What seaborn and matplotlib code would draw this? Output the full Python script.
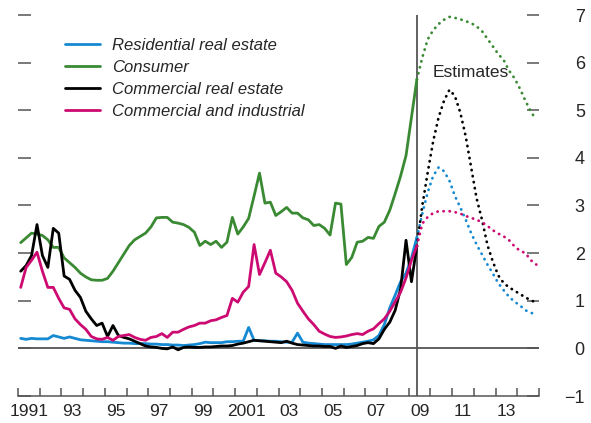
import matplotlib.pyplot as plt
import numpy as np
import pandas as pd
import seaborn as sns

# quarterly net charge-off rates, 1991Q1 - 2009Q2 (percent)
series_names = ["Residential real estate", "Consumer",
                "Commercial real estate", "Commercial and industrial"]
colors = ["#1589d2", "#3a8a33", "#000000", "#cc0a72"]

residential = [
    0.21, 0.19, 0.21, 0.20, 0.20, 0.20, 0.27, 0.24, 0.21, 0.24, 0.21, 0.18,
    0.17, 0.16, 0.15, 0.14, 0.14, 0.13, 0.12, 0.11, 0.11, 0.10, 0.10, 0.10,
    0.09, 0.09, 0.08, 0.08, 0.07, 0.07, 0.06, 0.07, 0.08, 0.10, 0.13, 0.12,
    0.12, 0.12, 0.14, 0.14, 0.15, 0.15, 0.44, 0.17, 0.16, 0.16, 0.15, 0.15,
    0.14, 0.13, 0.13, 0.32, 0.13, 0.11, 0.10, 0.09, 0.08, 0.08, 0.08, 0.08,
    0.08, 0.09, 0.11, 0.13, 0.15, 0.18, 0.27, 0.50, 0.85, 1.12, 1.40, 1.58,
    1.90, 2.33,
]
consumer = [
    2.22, 2.32, 2.42, 2.40, 2.37, 2.28, 2.12, 2.12, 1.90, 1.80, 1.70, 1.58,
    1.50, 1.44, 1.43, 1.43, 1.47, 1.62, 1.80, 1.98, 2.16, 2.28, 2.35, 2.42,
    2.55, 2.74, 2.75, 2.75, 2.65, 2.63, 2.60, 2.54, 2.44, 2.16, 2.25, 2.18,
    2.25, 2.12, 2.23, 2.75, 2.40, 2.55, 2.73, 3.20, 3.68, 3.05, 3.07, 2.79,
    2.87, 2.96, 2.84, 2.84, 2.74, 2.70, 2.58, 2.60, 2.52, 2.38, 3.05, 3.03,
    1.76, 1.91, 2.23, 2.25, 2.33, 2.31, 2.56, 2.65, 2.90, 3.25, 3.62, 4.05,
    4.85, 5.65,
]
commercial_re = [
    1.62, 1.74, 1.95, 2.60, 1.95, 1.70, 2.52, 2.42, 1.52, 1.45, 1.22, 1.07,
    0.78, 0.62, 0.48, 0.53, 0.25, 0.48, 0.27, 0.23, 0.20, 0.15, 0.10, 0.05,
    0.03, 0.02, 0.00, -0.01, 0.03, -0.03, 0.02, 0.03, 0.02, 0.02, 0.03, 0.03,
    0.04, 0.05, 0.05, 0.06, 0.09, 0.11, 0.14, 0.17, 0.16, 0.15, 0.14, 0.13,
    0.12, 0.15, 0.11, 0.08, 0.07, 0.06, 0.05, 0.05, 0.04, 0.04, 0.00, 0.05,
    0.02, 0.04, 0.06, 0.10, 0.12, 0.10, 0.20, 0.40, 0.55, 0.80, 1.25, 2.27,
    1.40, 2.15,
]
c_and_i = [
    1.28, 1.70, 1.85, 2.02, 1.62, 1.28, 1.28, 1.05, 0.85, 0.82, 0.62, 0.50,
    0.40, 0.25, 0.20, 0.19, 0.23, 0.17, 0.25, 0.27, 0.29, 0.23, 0.19, 0.17,
    0.23, 0.25, 0.31, 0.23, 0.34, 0.34, 0.40, 0.45, 0.48, 0.53, 0.53, 0.58,
    0.60, 0.65, 0.69, 1.05, 0.97, 1.18, 1.30, 2.18, 1.55, 1.80, 2.06, 1.58,
    1.50, 1.40, 1.22, 0.95, 0.78, 0.62, 0.50, 0.36, 0.30, 0.25, 0.23, 0.24,
    0.26, 0.29, 0.31, 0.29, 0.36, 0.41, 0.52, 0.62, 0.78, 0.98, 1.18, 1.48,
    1.85, 2.15,
]

# estimates, 2009Q3 - 2014Q4
residential_est = [
    2.83, 3.28, 3.62, 3.80, 3.72, 3.52, 3.20, 2.96, 2.70, 2.42, 2.18, 1.97,
    1.76, 1.57, 1.37, 1.22, 1.08, 0.98, 0.90, 0.80, 0.75, 0.70,
]
consumer_est = [
    6.11, 6.49, 6.68, 6.81, 6.90, 6.96, 6.94, 6.91, 6.87, 6.83, 6.76, 6.66,
    6.50, 6.34, 6.18, 6.05, 5.83, 5.67, 5.45, 5.20, 4.97, 4.80,
]
commercial_re_est = [
    3.00, 3.70, 4.35, 4.85, 5.20, 5.43, 5.30, 4.95, 4.45, 3.80, 3.15, 2.70,
    2.17, 1.82, 1.53, 1.37, 1.28, 1.21, 1.14, 1.07, 1.01, 0.96,
]
c_and_i_est = [
    2.62, 2.76, 2.84, 2.88, 2.88, 2.88, 2.86, 2.83, 2.78, 2.74, 2.70, 2.65,
    2.57, 2.48, 2.41, 2.35, 2.27, 2.14, 2.05, 2.00, 1.85, 1.76,
]

actual = [residential, consumer, commercial_re, c_and_i]
estimates = [residential_est, consumer_est, commercial_re_est, c_and_i_est]

quarters = 1991.125 + 0.25 * np.arange(len(consumer))
est_quarters = quarters[-1] + 0.25 * np.arange(0, len(consumer_est) + 1)

sns.set_style("white")
plt.rcParams["font.family"] = ["Liberation Sans Narrow", "Liberation Sans", "DejaVu Sans"]
axis_grey = "#555555"

fig = plt.figure(figsize=(5.91, 4.23), dpi=100)
ax = fig.add_axes([18 / 591, 27 / 423, 521 / 591, 381 / 423])

ax.axhline(0, color=axis_grey, lw=1.3, zorder=1)
ax.axvline(quarters[-1], color=axis_grey, lw=1.3, zorder=1)

for name, col, vals, est in zip(series_names, colors, actual, estimates):
    df = pd.DataFrame({"year": quarters, "value": vals})
    sns.lineplot(data=df, x="year", y="value", color=col, lw=2.0,
                 label=name, ax=ax, zorder=3)
    df_est = pd.DataFrame({"year": est_quarters, "value": [vals[-1]] + est})
    sns.lineplot(data=df_est, x="year", y="value", color=col, lw=2.0,
                 linestyle=(0, (0.1, 2.1)), dash_capstyle="round",
                 ax=ax, zorder=3, legend=False)

ax.set_xlim(1991, 2015)
ax.set_ylim(-1, 7)
ax.set_xlabel("")
ax.set_ylabel("")

# x axis: ticks at year boundaries, labels at mid-year
ax.set_xticks(np.arange(1991, 2016))
ax.set_xticklabels([])
label_years = np.arange(1991, 2015, 2)
ax.set_xticks(label_years + 0.5, minor=True)
ax.set_xticklabels(["1991" if y == 1991 else ("2001" if y == 2001 else f"{y % 100:02d}")
                    for y in label_years], minor=True)
ax.tick_params(axis="x", which="major", direction="in", length=6, width=1.1,
               color=axis_grey, bottom=True)
ax.tick_params(axis="x", which="minor", length=0, bottom=True,
               labelsize=12.5, pad=6)

# y axis: short inside ticks on both sides, labels on right
ax.set_yticks(np.arange(-1, 8))
ax.set_yticklabels(["\u22121" if v < 0 else str(v) for v in range(-1, 8)])
ax.tick_params(axis="y", direction="in", length=9, width=1.1, color=axis_grey,
               left=True, right=True, labelleft=False, labelright=True,
               labelsize=13, pad=33)
for lab in ax.get_yticklabels():
    lab.set_horizontalalignment("right")

for side in ["left", "right", "top"]:
    ax.spines[side].set_visible(False)
ax.spines["bottom"].set_color(axis_grey)
ax.spines["bottom"].set_linewidth(1.1)

ax.text(2010.08, 5.8, "Estimates", ha="left", va="center", fontsize=12.5)

leg = ax.legend(loc="upper left", bbox_to_anchor=(0.09, 0.94), frameon=False,
                prop={"style": "italic", "size": 12}, handlelength=2.1,
                handletextpad=0.75, labelspacing=0.42, borderpad=0,
                borderaxespad=0)

fig.savefig("out.png", dpi=100)
